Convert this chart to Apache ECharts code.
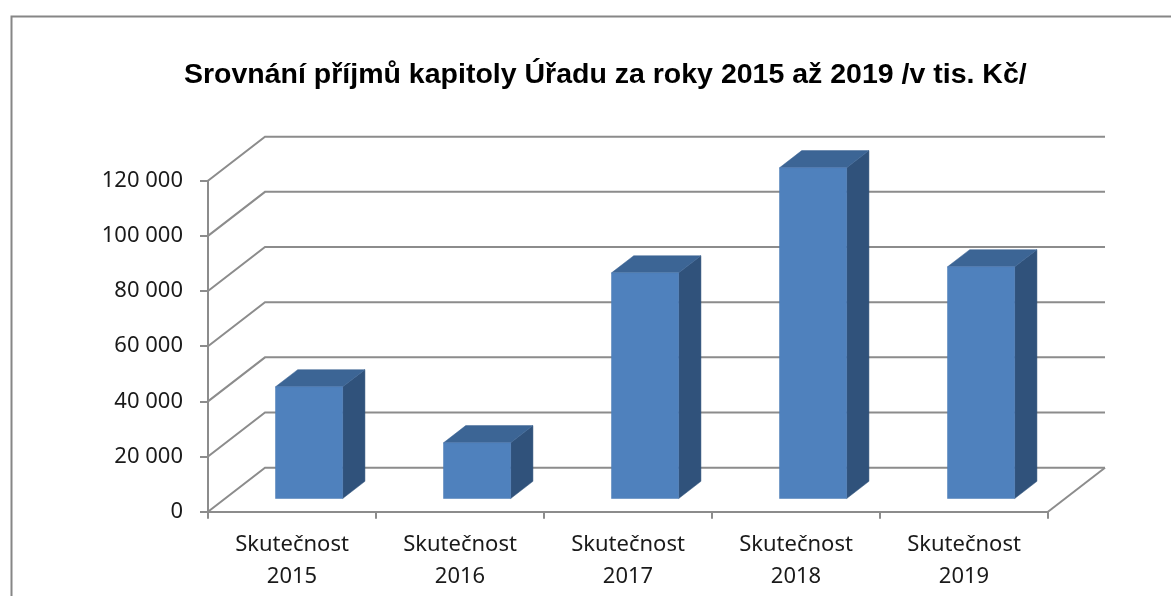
<!DOCTYPE html>
<html>
<head>
<meta charset="utf-8">
<script src="https://cdn.jsdelivr.net/npm/echarts@6/dist/echarts.min.js"></script>
<style>html,body{margin:0;padding:0;background:#fff}#c{width:1171px;height:596px}</style>
</head>
<body>
<div id="c"></div>
<script>
var categories = ['Skutečnost 2015', 'Skutečnost 2016', 'Skutečnost 2017', 'Skutečnost 2018', 'Skutečnost 2019'];
var values = [40500, 20200, 81800, 119900, 84000];
var yTicks = [0, 20000, 40000, 60000, 80000, 100000, 120000];

var DEPTH_X = 57, DEPTH_Y = -44;      // depth of the 3D box
var BAR_F0 = 0.30, BAR_F1 = 0.69;     // bar front/back depth fraction
var GRID_COLOR = '#8c8c8c';

var chart = echarts.init(document.getElementById('c'));

function wallsItem(params, api) {
  var cs = params.coordSys;
  var v = api.value(0);
  var y = api.coord([0, v])[1];
  var left = cs.x, right = cs.x + cs.width;
  var children = [{
    type: 'polyline',
    shape: {points: [[left, y], [left + DEPTH_X, y + DEPTH_Y], [right + DEPTH_X, y + DEPTH_Y]]},
    style: {stroke: GRID_COLOR, lineWidth: 2, fill: null}
  }];
  if (v === 0) {
    children.push({
      type: 'line',
      shape: {x1: right, y1: y, x2: right + DEPTH_X, y2: y + DEPTH_Y},
      style: {stroke: GRID_COLOR, lineWidth: 2}
    });
  }
  return {type: 'group', children: children};
}

function barItem(params, api) {
  var i = api.value(0), v = api.value(1);
  var base = api.coord([i, 0]);
  var top = api.coord([i, v]);
  var band = api.size([1, 0])[0];
  var w = band * 0.4;
  var ox0 = DEPTH_X * BAR_F0, oy0 = DEPTH_Y * BAR_F0;
  var bdx = DEPTH_X * (BAR_F1 - BAR_F0), bdy = DEPTH_Y * (BAR_F1 - BAR_F0);
  var cx = base[0] + ox0;
  var fl = cx - w / 2, fr = cx + w / 2;
  var ft = top[1] + oy0, fb = base[1] + oy0;
  return {
    type: 'group',
    children: [
      {type: 'polygon', shape: {points: [[fr, ft], [fr + bdx, ft + bdy], [fr + bdx, fb + bdy], [fr, fb]]},
        style: {fill: '#30527b', stroke: '#30527b', lineWidth: 0.5}},
      {type: 'polygon', shape: {points: [[fl, ft], [fr, ft], [fr + bdx, ft + bdy], [fl + bdx, ft + bdy]]},
        style: {fill: '#3c6595', stroke: '#3c6595', lineWidth: 0.5}},
      {type: 'rect', shape: {x: fl, y: ft, width: w, height: fb - ft},
        style: {fill: '#4f81bd', stroke: '#4a7ab4', lineWidth: 0.5}}
    ]
  };
}

chart.setOption({
  animation: false,
  title: {
    text: 'Srovnání příjmů kapitoly Úřadu za roky 2015 až 2019 /v tis. Kč/',
    left: 179, top: 56,
    textStyle: {fontFamily: 'Liberation Sans, Arial, sans-serif', fontWeight: 'bold', fontSize: 28.5, color: '#000'}
  },
  graphic: [{
    type: 'rect', left: 9, top: 14, z: -10,
    shape: {width: 1250, height: 700},
    style: {fill: null, stroke: '#868686', lineWidth: 2}
  }],
  grid: {left: 208, top: 180.7, right: 123, bottom: 84.3, containLabel: false},
  xAxis: {
    type: 'category',
    data: categories,
    boundaryGap: true,
    axisLine: {show: true, lineStyle: {color: GRID_COLOR, width: 2}},
    axisTick: {show: true, length: 7, lineStyle: {color: GRID_COLOR, width: 2}},
    axisLabel: {
      margin: 17, lineHeight: 32, fontSize: 22, color: '#1a1a1a',
      fontFamily: 'Noto Sans, Open Sans, sans-serif',
      formatter: function (s) { return s.replace(' ', '\n'); }
    },
    splitLine: {show: false}
  },
  yAxis: {
    type: 'value', min: 0, max: 120000, interval: 20000,
    axisLine: {show: true, lineStyle: {color: GRID_COLOR, width: 2}},
    axisTick: {show: true, length: 8, lineStyle: {color: GRID_COLOR, width: 2}},
    splitLine: {show: false},
    axisLabel: {
      margin: 25, fontSize: 22, color: '#1a1a1a',
      fontFamily: 'Noto Sans, Open Sans, sans-serif',
      formatter: function (v) { return String(v).replace(/\B(?=(\d{3})+(?!\d))/g, ' '); }
    }
  },
  series: [
    {
      type: 'custom', z: 1, silent: true,
      renderItem: wallsItem,
      data: yTicks.map(function (t) { return [t]; }),
      encode: {y: 0}
    },
    {
      type: 'custom', z: 5,
      renderItem: barItem,
      data: values.map(function (v, i) { return [i, v]; }),
      encode: {x: 0, y: 1}
    }
  ]
});
</script>
</body>
</html>
